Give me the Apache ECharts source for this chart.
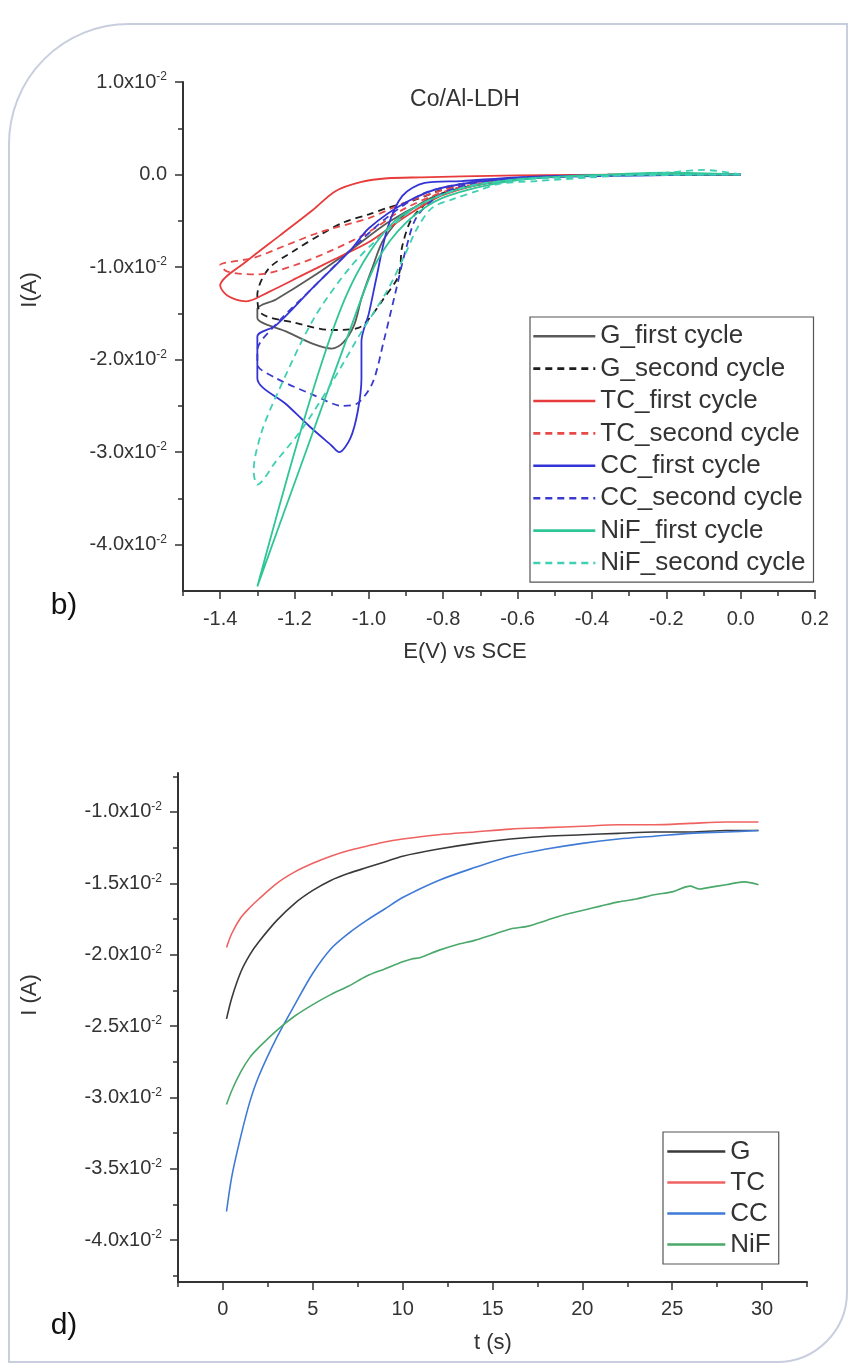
<!DOCTYPE html>
<html>
<head>
<meta charset="utf-8">
<title>Co/Al-LDH</title>
<script src="https://cdn.jsdelivr.net/npm/echarts@6/dist/echarts.min.js"></script>
<style>
  html, body { margin: 0; padding: 0; background: #fff; }
  #chart { width: 855px; height: 1366px; }
</style>
</head>
<body>
<div id="chart"></div>
<script>
// ---- panel b) cyclic voltammetry, [E (V vs SCE), I (x10^-2 A)] ----
const gFirst = [[0,0],[-0.2,0.0],[-0.4,-0.01],[-0.6,-0.05],[-0.75,-0.15],[-0.85,-0.3],[-0.95,-0.52],[-1.05,-0.82],[-1.15,-1.1],[-1.25,-1.35],[-1.3,-1.45],[-1.3,-1.55],[-1.22,-1.7],[-1.15,-1.83],[-1.1,-1.88],[-1.07,-1.82],[-1.04,-1.63],[-1.02,-1.34],[-0.99,-1.0],[-0.96,-0.7],[-0.9,-0.42],[-0.8,-0.2],[-0.6,-0.05],[-0.4,-0.01],[0,0]];
const gSecond = [[0,0],[-0.3,0.0],[-0.5,-0.02],[-0.7,-0.08],[-0.8,-0.16],[-0.88,-0.28],[-0.95,-0.36],[-1.0,-0.43],[-1.07,-0.52],[-1.13,-0.65],[-1.2,-0.82],[-1.27,-1.02],[-1.3,-1.3],[-1.29,-1.5],[-1.2,-1.6],[-1.1,-1.68],[-1.03,-1.66],[-1.0,-1.56],[-0.96,-1.34],[-0.92,-1.09],[-0.91,-0.77],[-0.88,-0.45],[-0.8,-0.2],[-0.6,-0.05],[-0.3,0.0],[0,0]];
const tcFirst = [[0,0],[-0.3,0.0],[-0.6,-0.01],[-0.75,-0.02],[-0.86,-0.03],[-0.95,-0.04],[-1.02,-0.08],[-1.09,-0.18],[-1.15,-0.38],[-1.24,-0.66],[-1.33,-0.94],[-1.4,-1.2],[-1.38,-1.31],[-1.33,-1.37],[-1.27,-1.27],[-1.18,-1.09],[-1.09,-0.91],[-1.0,-0.73],[-0.9,-0.45],[-0.8,-0.22],[-0.65,-0.07],[-0.4,-0.01],[0,0]];
const tcSecond = [[0,0],[-0.5,-0.02],[-0.75,-0.12],[-0.9,-0.3],[-1.0,-0.47],[-1.13,-0.62],[-1.22,-0.76],[-1.31,-0.9],[-1.4,-0.98],[-1.38,-1.05],[-1.3,-1.08],[-1.2,-0.98],[-1.1,-0.82],[-1.0,-0.62],[-0.9,-0.36],[-0.75,-0.13],[-0.5,-0.02],[0,0]];
const ccFirst = [[0,0],[-0.4,-0.01],[-0.6,-0.03],[-0.75,-0.07],[-0.85,-0.09],[-0.91,-0.23],[-0.95,-0.58],[-0.98,-1.12],[-1.0,-1.5],[-1.02,-1.8],[-1.02,-2.2],[-1.03,-2.56],[-1.05,-2.85],[-1.08,-3.0],[-1.1,-2.93],[-1.16,-2.72],[-1.22,-2.49],[-1.3,-2.2],[-1.3,-1.75],[-1.25,-1.63],[-1.15,-1.22],[-1.05,-0.82],[-1.0,-0.58],[-0.9,-0.3],[-0.8,-0.14],[-0.6,-0.04],[0,0]];
const ccSecond = [[0,0],[-0.5,-0.02],[-0.7,-0.08],[-0.8,-0.2],[-0.87,-0.45],[-0.9,-0.8],[-0.93,-1.3],[-0.96,-1.8],[-0.99,-2.25],[-1.03,-2.47],[-1.07,-2.5],[-1.15,-2.38],[-1.25,-2.2],[-1.3,-2.05],[-1.3,-1.9],[-1.25,-1.62],[-1.15,-1.22],[-1.05,-0.82],[-0.95,-0.46],[-0.85,-0.2],[-0.7,-0.07],[-0.5,-0.02],[0,0]];
const nifFirst = [[0,0],[-0.2,0.02],[-0.4,-0.01],[-0.6,-0.05],[-0.75,-0.15],[-0.85,-0.3],[-0.93,-0.5],[-1.0,-0.85],[-1.06,-1.3],[-1.12,-1.95],[-1.2,-3.0],[-1.3,-4.45],[-1.17,-3.0],[-1.05,-1.67],[-0.98,-0.95],[-0.9,-0.52],[-0.8,-0.25],[-0.6,-0.06],[-0.3,0.0],[0,0]];
const nifSecond = [[0,0],[-0.1,0.05],[-0.2,0.02],[-0.4,-0.03],[-0.55,-0.07],[-0.65,-0.1],[-0.71,-0.18],[-0.77,-0.26],[-0.83,-0.36],[-0.87,-0.58],[-0.9,-0.84],[-0.95,-1.25],[-1.02,-1.7],[-1.1,-2.25],[-1.18,-2.75],[-1.25,-3.1],[-1.3,-3.35],[-1.31,-3.2],[-1.29,-2.8],[-1.25,-2.4],[-1.15,-1.57],[-1.05,-1.0],[-0.95,-0.6],[-0.85,-0.3],[-0.7,-0.1],[-0.4,-0.02],[0,0]];

// ---- panel d) chronoamperometry, time (s) and I (x10^-2 A) ----
const tTime = [0.2, 0.5, 1, 1.5, 2, 3, 4, 5, 6, 7, 8, 9, 10, 12, 14, 16, 18, 20, 22, 24, 26, 28, 29.8];
const gCurrent  = [-2.45,-2.30,-2.12,-2.00,-1.91,-1.76,-1.64,-1.55,-1.48,-1.43,-1.39,-1.35,-1.31,-1.26,-1.22,-1.19,-1.17,-1.16,-1.15,-1.14,-1.14,-1.13,-1.13];
const tcCurrent = [-1.95,-1.85,-1.74,-1.67,-1.61,-1.50,-1.42,-1.36,-1.31,-1.27,-1.24,-1.21,-1.19,-1.16,-1.14,-1.12,-1.11,-1.10,-1.09,-1.09,-1.08,-1.07,-1.07];
const ccCurrent = [-3.80,-3.55,-3.27,-3.03,-2.85,-2.58,-2.35,-2.13,-1.96,-1.85,-1.76,-1.68,-1.60,-1.48,-1.39,-1.31,-1.26,-1.22,-1.19,-1.17,-1.15,-1.14,-1.13];
const nifTime    = [0.2, 0.5, 1, 1.5, 2, 3, 4, 5, 6, 7, 8, 9, 10, 10.5, 11, 12, 13, 14, 15, 16, 17, 18, 19, 20, 21, 22, 23, 24, 25, 26, 26.5, 27, 28, 29, 29.8];
const nifCurrent = [-3.05,-2.95,-2.82,-2.72,-2.65,-2.53,-2.43,-2.35,-2.28,-2.22,-2.15,-2.10,-2.05,-2.03,-2.02,-1.97,-1.93,-1.90,-1.86,-1.82,-1.80,-1.76,-1.72,-1.69,-1.66,-1.63,-1.61,-1.58,-1.56,-1.52,-1.54,-1.53,-1.51,-1.49,-1.51];

// ticks
const cvMajorX = [-1.4, -1.2, -1.0, -0.8, -0.6, -0.4, -0.2, 0.0, 0.2];
const cvMinorX = [-1.5, -1.3, -1.1, -0.9, -0.7, -0.5, -0.3, -0.1, 0.1];
const cvMajorY = [-0.04, -0.03, -0.02, -0.01, 0, 0.01];
const cvMinorY = [-0.035, -0.025, -0.015, -0.005, 0.005];
const caMajorX = [0, 5, 10, 15, 20, 25, 30];
const caMinorX = [-2.5, 2.5, 7.5, 12.5, 17.5, 22.5, 27.5, 32.5];
const caMajorY = [-0.04, -0.035, -0.03, -0.025, -0.02, -0.015, -0.01];
const caMinorY = [-0.0425, -0.0375, -0.0325, -0.0275, -0.0225, -0.0175, -0.0125, -0.0075];

const FONT = '"Liberation Sans", Arial, sans-serif';
const INK = '#333';

const toAmp = arr => arr.map(p => [p[0], p[1] / 100]);
const pair = (xs, ys) => xs.map((x, i) => [x, ys[i] / 100]);

function sciLabel(v) {
  if (Math.abs(v) < 1e-12) return '0.0';
  return '{a|' + (v * 100).toFixed(1) + 'x10}{s|-2}';
}
const sciRich = {
  a: { fontSize: 20, color: INK, fontFamily: FONT },
  s: { fontSize: 12, color: INK, fontFamily: FONT, padding: [0, 0, 10, 0] }
};

function mainAxis(grid, pos, min, max, ticks, fmt, margin) {
  return {
    type: 'value', gridIndex: grid, position: pos, min: min, max: max,
    axisLine: { show: true, onZero: false, lineStyle: { color: INK, width: 2 } },
    axisTick: { show: true, customValues: ticks, length: 8, lineStyle: { color: INK, width: 1.5 } },
    axisLabel: { customValues: ticks, formatter: fmt, fontSize: 20, color: INK, fontFamily: FONT, margin: margin },
    splitLine: { show: false }
  };
}
function minorAxis(grid, pos, min, max, ticks) {
  return {
    type: 'value', gridIndex: grid, position: pos, min: min, max: max,
    axisLine: { show: false, onZero: false },
    axisTick: { show: true, customValues: ticks, length: 5, lineStyle: { color: INK, width: 1.5 } },
    axisLabel: { show: false },
    splitLine: { show: false }
  };
}

function line(name, data, color, dashed, xi, yi, width) {
  return {
    name: name, type: 'line', data: data, xAxisIndex: xi, yAxisIndex: yi,
    symbol: 'none', smooth: 0.3,
    lineStyle: { color: color, width: width || 1.8, type: dashed ? [7, 5] : 'solid' },
    itemStyle: { color: color }
  };
}

const yTop = mainAxis(0, 'left', -0.045, 0.01, cvMajorY, sciLabel, 16);
yTop.axisLabel.rich = sciRich;
const yBottom = mainAxis(1, 'left', -0.04294, -0.00727, caMajorY, sciLabel, 16);
yBottom.axisLabel.rich = sciRich;

const legendBase = {
  orient: 'vertical', itemGap: 0,
  borderColor: '#555', borderWidth: 1.2,
  itemStyle: { color: 'transparent', borderWidth: 0, opacity: 0 },
  lineStyle: { width: 2.6 }
};

const chart = echarts.init(document.getElementById('chart'));
chart.setOption({
  animation: false,
  backgroundColor: '#fff',
  grid: [
    { left: 183, top: 82, width: 632, height: 509 },
    { left: 178, top: 773, width: 629, height: 509 }
  ],
  xAxis: [
    mainAxis(0, 'bottom', -1.5, 0.2, cvMajorX, v => v.toFixed(1), 18),
    minorAxis(0, 'bottom', -1.5, 0.2, cvMinorX),
    mainAxis(1, 'bottom', -2.5, 32.5, caMajorX, v => String(Math.round(v)), 17),
    minorAxis(1, 'bottom', -2.5, 32.5, caMinorX)
  ],
  yAxis: [
    yTop,
    minorAxis(0, 'left', -0.045, 0.01, cvMinorY),
    yBottom,
    minorAxis(1, 'left', -0.04294, -0.00727, caMinorY)
  ],
  legend: [
    Object.assign({}, legendBase, {
      data: ['G_first cycle', 'G_second cycle', 'TC_first cycle', 'TC_second cycle',
             'CC_first cycle', 'CC_second cycle', 'NiF_first cycle', 'NiF_second cycle'],
      left: 530, top: 317,
      padding: [3, 8, 3, 2], itemWidth: 62, itemHeight: 14,
      textStyle: { fontSize: 26, lineHeight: 32.4, color: INK, fontFamily: FONT }
    }),
    Object.assign({}, legendBase, {
      data: ['G', 'TC', 'CC', 'NiF'],
      left: 663, top: 1132,
      padding: [4, 8, 4, 3], itemWidth: 58, itemHeight: 14,
      textStyle: { fontSize: 26, lineHeight: 31, color: INK, fontFamily: FONT }
    })
  ],
  series: [
    line('G_first cycle', toAmp(gFirst), '#5a5a5a', false, 0, 0),
    line('G_second cycle', toAmp(gSecond), '#1e1e1e', true, 0, 0),
    line('TC_first cycle', toAmp(tcFirst), '#e83b3b', false, 0, 0),
    line('TC_second cycle', toAmp(tcSecond), '#e84a4a', true, 0, 0),
    line('CC_first cycle', toAmp(ccFirst), '#3434d6', false, 0, 0),
    line('CC_second cycle', toAmp(ccSecond), '#3a3ad0', true, 0, 0),
    line('NiF_first cycle', toAmp(nifFirst), '#2fc596', false, 0, 0),
    line('NiF_second cycle', toAmp(nifSecond), '#3fcfb2', true, 0, 0),
    line('G', pair(tTime, gCurrent), '#3a3a3a', false, 2, 2, 1.6),
    line('TC', pair(tTime, tcCurrent), '#ef6262', false, 2, 2, 1.6),
    line('CC', pair(tTime, ccCurrent), '#3f7bd6', false, 2, 2, 1.6),
    line('NiF', pair(nifTime, nifCurrent), '#4aa86a', false, 2, 2, 1.6)
  ],
  graphic: [
    { type: 'rect', silent: true, z: -1,
      shape: { x: 9, y: 24, width: 838, height: 1338, r: [120, 0, 70, 0] },
      style: { fill: 'none', stroke: '#c9cedf', lineWidth: 2 } },
    { type: 'text', x: 465, y: 100, style: { text: 'Co/Al-LDH', fontSize: 23, fill: INK, fontFamily: FONT, align: 'center', verticalAlign: 'middle' } },
    { type: 'text', x: 30, y: 290, rotation: Math.PI / 2, style: { text: 'I(A)', fontSize: 22, fill: INK, fontFamily: FONT, align: 'center', verticalAlign: 'middle' } },
    { type: 'text', x: 465, y: 652, style: { text: 'E(V) vs SCE', fontSize: 22, fill: INK, fontFamily: FONT, align: 'center', verticalAlign: 'middle' } },
    { type: 'text', x: 64, y: 606, style: { text: 'b)', fontSize: 30, fill: '#111', fontFamily: FONT, align: 'center', verticalAlign: 'middle' } },
    { type: 'text', x: 30, y: 995, rotation: Math.PI / 2, style: { text: 'I (A)', fontSize: 22, fill: INK, fontFamily: FONT, align: 'center', verticalAlign: 'middle' } },
    { type: 'text', x: 493, y: 1343, style: { text: 't (s)', fontSize: 22, fill: INK, fontFamily: FONT, align: 'center', verticalAlign: 'middle' } },
    { type: 'text', x: 64, y: 1326, style: { text: 'd)', fontSize: 30, fill: '#111', fontFamily: FONT, align: 'center', verticalAlign: 'middle' } }
  ]
});
</script>
</body>
</html>
